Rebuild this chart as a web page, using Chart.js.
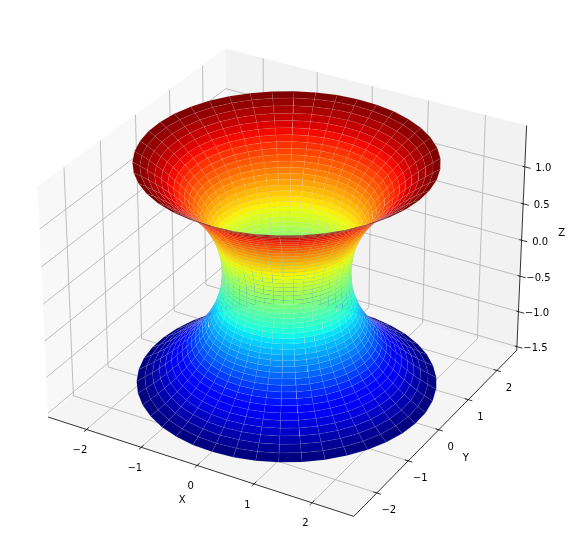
<!DOCTYPE html>
<html>
<head>
<meta charset="utf-8">
<style>html,body{margin:0;padding:0;background:#fff}canvas{display:block;filter:blur(0.3px)}</style>
<script src="https://cdn.jsdelivr.net/npm/chart.js@4/dist/chart.umd.min.js"></script>
</head>
<body>
<canvas id="c" width="571" height="558"></canvas>
<script>
// Surface mesh
const meridianDeg = [5.7,14.3,22.8,31.4,40.0,48.6,57.1,65.7,74.3,82.8,91.4,100.0,108.6,117.1,125.7,134.3,142.8,151.4,160.0,168.6,177.1,185.7,194.3,202.8,211.4,220.0,228.6,237.1,245.7,254.3,262.8,271.4,280.0,288.6,297.1,305.7,314.3,322.8,331.4,340.0,348.6,357.1];
const ringZ = [-1.5,-1.44,-1.38,-1.32,-1.26,-1.2,-1.14,-1.08,-1.02,-0.96,-0.9,-0.84,-0.78,-0.72,-0.66,-0.6,-0.54,-0.48,-0.42,-0.36,-0.3,-0.24,-0.18,-0.12,-0.06,0,0.06,0.12,0.18,0.24,0.3,0.36,0.42,0.48,0.54,0.6,0.66,0.72,0.78,0.84,0.9,0.96,1.02,1.08,1.14,1.2,1.26,1.32,1.38,1.44,1.49];
const ringR = [2.367,2.235,2.113,2.005,1.905,1.811,1.723,1.642,1.567,1.497,1.433,1.374,1.320,1.271,1.226,1.186,1.149,1.117,1.090,1.066,1.045,1.029,1.016,1.007,1.002,1.000,1.002,1.007,1.016,1.029,1.045,1.066,1.090,1.117,1.149,1.186,1.226,1.271,1.320,1.374,1.433,1.497,1.567,1.642,1.723,1.811,1.905,2.005,2.113,2.225,2.335];

// Axes
const xLimit = [-2.71, 2.71];
const yLimit = [-2.71, 2.71];
const zLimit = [-1.553, 1.553];
const xTicks = [-2,-1,0,1,2];
const yTicks = [-2,-1,0,1,2];
const zTicks = [-1.5,-1,-0.5,0,0.5,1];
const xTickLabels = ['\u22122','\u22121','0','1','2'];
const yTickLabels = ['\u22122','\u22121','0','1','2'];
const zTickLabels = ['\u22121.5','\u22121.0','\u22120.5','0.0','0.5','1.0'];

// Camera (elevation 30, azimuth -60, distance 10) and box
const camU = [0.8660254,0.5,0], camV = [-0.25,0.4330127,0.8660254], camN = [0.4330127,-0.75,0.5];
const boxXY = 0.5714, boxZ = 0.4286;
const W = 571, H = 558, S = 3065, OX = 286.6, OY = 271.7;

function world(x,y,z){return [x*boxXY/xLimit[1], y*boxXY/yLimit[1], z*boxZ/zLimit[1]];}
function dot(a,b){return a[0]*b[0]+a[1]*b[1]+a[2]*b[2];}
function project(x,y,z){const d=world(x,y,z),w=10-dot(d,camN);return {x:dot(d,camU)/w,y:dot(d,camV)/w};}
function depth(x,y,z){return dot(world(x,y,z),camN);}

const jetR=[[0,0],[0.35,0],[0.66,1],[0.89,1],[1,0.5]];
const jetG=[[0,0],[0.125,0],[0.375,1],[0.64,1],[0.91,0],[1,0]];
const jetB=[[0,0.5],[0.11,1],[0.34,1],[0.65,0],[1,0]];
function lut(t,s){for(let i=1;i<s.length;i++){if(t<=s[i][0]){const a=s[i-1],b=s[i];return a[1]+(b[1]-a[1])*(t-a[0])/(b[0]-a[0]);}}return s[s.length-1][1];}
function jet(t){t=Math.max(0,Math.min(1,t));return 'rgb('+Math.round(255*lut(t,jetR))+','+Math.round(255*lut(t,jetG))+','+Math.round(255*lut(t,jetB))+')';}

function lineSet(pts,color,width){return {data:pts.map(p=>project(p[0],p[1],p[2])),showLine:true,fill:false,pointRadius:0,borderColor:color,borderWidth:width,borderCapStyle:'butt',borderJoinStyle:'miter',tension:0};}
function polySet(pts,color,seam){const closed=pts.concat([pts[0]]);return {data:closed.map(p=>project(p[0],p[1],p[2])),showLine:true,fill:'shape',pointRadius:0,borderWidth:seam?0.45:0,borderColor:seam||'transparent',backgroundColor:color,tension:0};}

const [x0,x1]=xLimit,[y0,y1]=yLimit,[z0,z1]=zLimit;

// Surface quads, nearest first (Chart.js paints the last dataset first)
const quads=[];
const seamColor='rgba(195,195,195,0.22)';
const meanLo=(ringZ[0]+ringZ[1])/2, meanHi=(ringZ[ringZ.length-1]+ringZ[ringZ.length-2])/2;
for(let i=0;i<ringZ.length-1;i++){
  for(let j=0;j<meridianDeg.length;j++){
    const a=meridianDeg[j]*Math.PI/180,b=meridianDeg[(j+1)%meridianDeg.length]*Math.PI/180;
    const r0=ringR[i],r1=ringR[i+1],zA=ringZ[i],zB=ringZ[i+1];
    const pts=[[r0*Math.cos(a),r0*Math.sin(a),zA],[r0*Math.cos(b),r0*Math.sin(b),zA],[r1*Math.cos(b),r1*Math.sin(b),zB],[r1*Math.cos(a),r1*Math.sin(a),zB]];
    const dep=pts.reduce((s,p)=>s+depth(p[0],p[1],p[2]),0)/4;
    quads.push({pts,dep,color:jet(((zA+zB)/2-meanLo)/(meanHi-meanLo))});
  }
}
quads.sort((p,q)=>q.dep-p.dep);

const datasets=quads.map(q=>polySet(q.pts,q.color,seamColor));

// Axis lines and tick marks
datasets.push(lineSet([[x0,y0,z0],[x1,y0,z0]],'#000',0.8));
datasets.push(lineSet([[x1,y0,z0],[x1,y1,z0]],'#000',0.8));
datasets.push(lineSet([[x1,y1,z0],[x1,y1,z1]],'#000',0.8));
xTicks.forEach(t=>datasets.push(lineSet([[t,y0+0.07,z0],[t,y0-0.07,z0]],'#000',0.8)));
yTicks.forEach(t=>datasets.push(lineSet([[x1-0.06,t,z0],[x1+0.07,t,z0]],'#000',0.8)));
zTicks.forEach(t=>datasets.push(lineSet([[x1-0.04,y1,t],[x1+0.1,y1,t]],'#000',0.8)));

// Grid
const gridColor='#b0b0b0';
xTicks.forEach(t=>datasets.push(lineSet([[t,y0,z0],[t,y1,z0],[t,y1,z1]],gridColor,0.8)));
yTicks.forEach(t=>datasets.push(lineSet([[x1,t,z0],[x0,t,z0],[x0,t,z1]],gridColor,0.8)));
zTicks.forEach(t=>datasets.push(lineSet([[x1,y1,t],[x0,y1,t],[x0,y0,t]],gridColor,0.8)));

// Panes
datasets.push(polySet([[x0,y0,z0],[x1,y0,z0],[x1,y1,z0],[x0,y1,z0]],'rgba(236,236,236,0.5)'));
datasets.push(polySet([[x0,y1,z0],[x1,y1,z0],[x1,y1,z1],[x0,y1,z1]],'rgba(230,230,230,0.5)'));
datasets.push(polySet([[x0,y0,z0],[x0,y1,z0],[x0,y1,z1],[x0,y0,z1]],'rgba(242,242,242,0.5)'));

const axisText={
  id:'axisText',
  afterDraw(chart){
    const c=chart.ctx,sx=chart.scales.x,sy=chart.scales.y;
    const put=(txt,p,dx,dy)=>c.fillText(txt,sx.getPixelForValue(p.x)+dx,sy.getPixelForValue(p.y)+dy);
    c.save();
    c.fillStyle='#000';c.font='10px "DejaVu Sans"';c.textAlign='center';c.textBaseline='middle';
    xTicks.forEach((t,i)=>put(xTickLabels[i],project(t,y0,z0),-6.5,21));
    yTicks.forEach((t,i)=>put(yTickLabels[i],project(x1,t,z0),12,17.5));
    zTicks.forEach((t,i)=>put(zTickLabels[i],project(x1,y1,t),18.5,2));
    put('X',project(0,y0,z0),-15,35);
    put('Y',project(x1,0,z0),27,29);
    put('Z',project(x1,y1,0),40,-7);
    c.restore();
  }
};

new Chart(document.getElementById('c'),{
  type:'scatter',
  data:{datasets},
  options:{
    responsive:false,animation:false,events:[],
    layout:{padding:0},
    plugins:{legend:{display:false},tooltip:{enabled:false},title:{display:false}},
    scales:{
      x:{type:'linear',display:false,min:(0-OX)/S,max:(W-OX)/S},
      y:{type:'linear',display:false,min:(OY-H)/S,max:OY/S}
    }
  },
  plugins:[axisText]
});
</script>
</body>
</html>
